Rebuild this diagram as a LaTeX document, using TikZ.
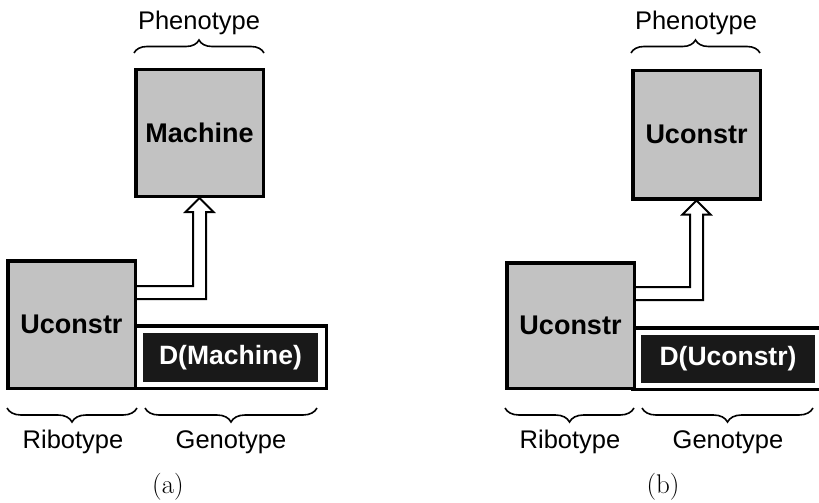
\documentclass[tikz,border=0pt]{standalone}
\usepackage{fontspec}
\newfontfamily\hv{Liberation Sans}
\usetikzlibrary{decorations.pathreplacing}
\begin{document}
\begin{tikzpicture}[x=1pt,y=-1pt,
  gbox/.style={draw, line width=3.5pt, fill=black!24, inner sep=0pt, anchor=north west,
    font=\hv\bfseries\fontsize{27}{30}\selectfont},
  genbox/.style={draw, line width=3.5pt, fill=white, inner sep=0pt, anchor=north west},
  dbox/.style={fill=black!90, text=white, inner sep=0pt, outer sep=0pt, anchor=north west,
    font=\hv\bfseries\fontsize{26.5}{30}\selectfont},
  lbl/.style={font=\hv\fontsize{25.5}{30}\selectfont, inner sep=0pt, anchor=base},
  capt/.style={font=\fontsize{27}{30}\selectfont, inner sep=0pt, anchor=base},
  brc/.style={decorate, decoration={brace, amplitude=13pt}, line width=1.6pt},
  arr/.style={draw, line width=2pt, line join=miter, fill=white}
]
\clip (0,0) rectangle (819,503);
\fill[white] (0,0) rectangle (819,503);

% ---------- (a) ----------
\node[gbox, minimum width=127.5pt, minimum height=126.5pt] (amach) at (134,68) {Machine};
\node[genbox, minimum width=191pt, minimum height=62.5pt] (agen) at (133.5,324) {};
\node[gbox, minimum width=127.5pt, minimum height=127.5pt] (auc) at (6,259) {Uconstr};
\node[dbox, minimum width=175pt, minimum height=49pt] (ad) at (143,333) {D(Machine)};
\draw[arr] ([yshift=38.5pt]auc.east) -| ([xshift=-6.5pt,yshift=-14pt]amach.south)
  -- ([xshift=-14pt,yshift=-14pt]amach.south) -- (amach.south)
  -- ([xshift=14pt,yshift=-14pt]amach.south) -- ([xshift=6.5pt,yshift=-14pt]amach.south)
  |- ([yshift=25.5pt]auc.east);
\node[lbl] (aphen) at (199,30) {Phenotype};
\draw[brc] (134,53) -- (264,53);
\draw[brc, decoration={amplitude=14pt}] (137,408) -- (7,408);
\draw[brc, decoration={amplitude=14pt}] (317,408) -- (145,408);
\node[lbl] (arib) at (73,448) {Ribotype};
\node[lbl] (agenl) at (231,448) {Genotype};
\node[capt] (acap) at (168,493) {(a)};

% ---------- (b) ----------
\node[gbox, minimum width=127.5pt, minimum height=128pt] (bmach) at (631,69) {Uconstr};
\node[genbox, minimum width=191pt, minimum height=61.5pt] (bgen) at (631,326) {};
\node[gbox, minimum width=127.5pt, minimum height=125.5pt] (buc) at (505,261) {Uconstr};
\node[dbox, minimum width=174pt, minimum height=48pt] (bd) at (641,335) {D(Uconstr)};
\draw[arr] ([yshift=38.5pt]buc.east) -| ([xshift=-6.5pt,yshift=-14pt]bmach.south)
  -- ([xshift=-14pt,yshift=-14pt]bmach.south) -- (bmach.south)
  -- ([xshift=14pt,yshift=-14pt]bmach.south) -- ([xshift=6.5pt,yshift=-14pt]bmach.south)
  |- ([yshift=25.5pt]buc.east);
\node[lbl] (bphen) at (696,30) {Phenotype};
\draw[brc] (631,53) -- (760,53);
\draw[brc, decoration={amplitude=14pt}] (634,408) -- (505,408);
\draw[brc, decoration={amplitude=14pt}] (813,408) -- (642,408);
\node[lbl] (brib) at (570,448) {Ribotype};
\node[lbl] (bgenl) at (728,448) {Genotype};
\node[capt] (bcap) at (663,493) {(b)};
\end{tikzpicture}
\end{document}
